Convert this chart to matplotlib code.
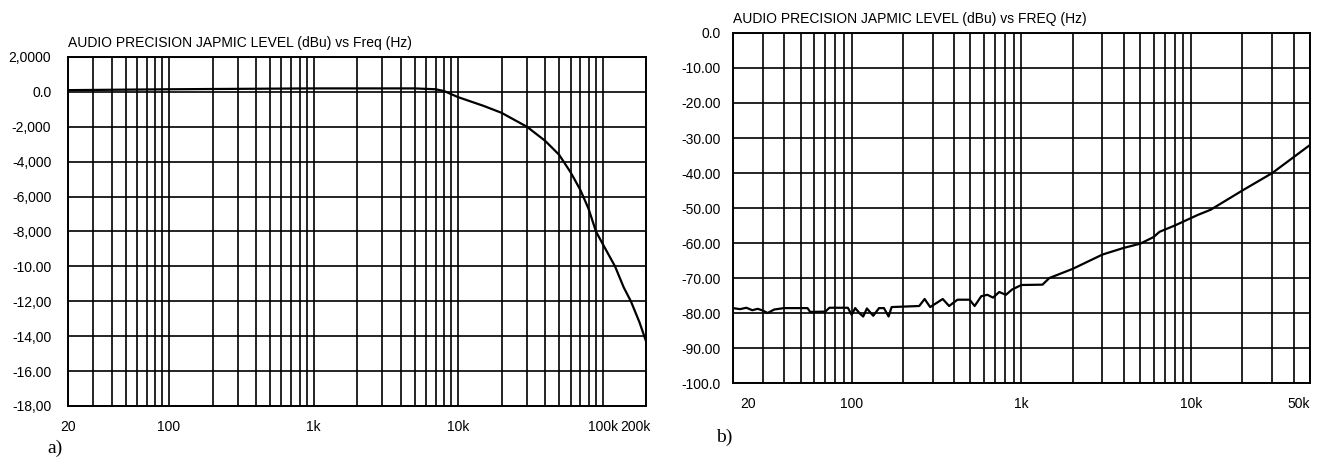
import matplotlib
matplotlib.use("Agg")
import matplotlib.pyplot as plt
import matplotlib.transforms as mtransforms
from matplotlib.ticker import LogLocator, NullFormatter

plt.rcParams['font.family'] = ['Liberation Sans', 'DejaVu Sans']

# a) nivel vs frecuencia (respuesta en frecuencia)
freq_a = [20, 100, 1000, 5000, 7000, 8000, 10000, 15000, 20000, 30000, 40000,
          50000, 60000, 70000, 80000, 90000, 100000, 122000, 140000, 157000,
          180000, 200000]
level_a = [0.1, 0.15, 0.2, 0.2, 0.15, 0.05, -0.3, -0.8, -1.2, -2.0, -2.8,
           -3.6, -4.6, -5.6, -6.7, -8.0, -8.7, -10.0, -11.2, -12.0,
           -13.2, -14.3]
yticks_a = [2, 0, -2, -4, -6, -8, -10, -12, -14, -16, -18]
ylabels_a = ["2,0000", "0.0", "-2,000", "-4,000", "-6,000", "-8,000",
             "-10.00", "-12,00", "-14,00", "-16.00", "-18,00"]
xticks_a = [20, 100, 1000, 10000, 100000, 200000]
xlabels_a = ["20", "100", "1k", "10k", "100k", "200k"]

# b) ruido vs frecuencia
freq_b = [20, 22, 24, 26, 28, 30, 32, 35, 40, 55, 57, 70, 74, 95, 100, 105,
          112, 117, 123, 134, 145, 155, 165, 172, 250, 269, 290, 344, 375,
          420, 495, 530, 580, 630, 680, 740, 810, 880, 970, 1000, 1330, 1460,
          2000, 3000, 4000, 5000, 6000, 6500, 8000, 10900, 13000, 20000,
          30000, 50000]
level_b = [-78.6, -78.9, -78.5, -79.2, -78.8, -79.3, -80.0, -79.0, -78.6,
           -78.6, -79.7, -79.6, -78.5, -78.5, -80.5, -78.6, -80.2, -81.0,
           -78.7, -80.8, -78.6, -78.6, -81.0, -78.3, -78.0, -76.0, -78.3,
           -76.0, -78.0, -76.2, -76.2, -78.0, -75.2, -74.8, -75.6, -74.0,
           -74.8, -73.3, -72.3, -72.0, -71.9, -70.0, -67.4, -63.3, -61.4,
           -60.2, -58.3, -56.8, -55.0, -52.0, -50.5, -45.0, -40.0, -32.0]
yticks_b = [0, -10, -20, -30, -40, -50, -60, -70, -80, -90, -100]
ylabels_b = ["0.0", "-10.00", "-20.00", "-30.00", "-40.00", "-50.00",
             "-60.00", "-70.00", "-80.00", "-90.00", "-100.0"]
xticks_b = [20, 100, 1000, 10000, 50000]
xlabels_b = ["20", "100", "1k", "10k", "50k"]


def estilo(ax, xlim, ylim, yticks, ylabels, xticks, xlabels, titulo, ypad):
    ax.set_xscale('log')
    ax.set_xlim(xlim)
    ax.set_ylim(ylim)
    ax.xaxis.set_minor_locator(LogLocator(base=10, subs=range(1, 10)))
    ax.xaxis.set_minor_formatter(NullFormatter())
    ax.set_yticks(yticks)
    ax.set_yticklabels(ylabels)
    ax.set_xticks(xticks)
    ax.set_xticklabels(xlabels)
    ax.tick_params(which='both', length=0, labelsize=10)
    ax.tick_params(axis='y', pad=ypad)
    ax.tick_params(axis='x', pad=10)
    ax.grid(which='both', axis='x', color='black', linewidth=1.2)
    ax.grid(which='major', axis='y', color='black', linewidth=1.2)
    for s in ax.spines.values():
        s.set_linewidth(1.4)
    for lab in ax.get_yticklabels():
        lab.set_ha('right')
    ax.text(0, 1.02, titulo, transform=ax.transAxes, fontsize=10,
            ha='left', va='bottom')


def mover(lab, dx, fig):
    # desplaza una etiqueta dx puntos en horizontal
    lab.set_transform(lab.get_transform() +
                      mtransforms.ScaledTranslation(dx / 72, 0,
                                                    fig.dpi_scale_trans))


fig = plt.figure(figsize=(13.18, 4.57), dpi=100)

ax1 = fig.add_axes([0.0516, 0.1116, 0.4386, 0.7637])
ax1.plot(freq_a, level_a, color='black', linewidth=1.6)
estilo(ax1, (20, 200000), (-18, 2), yticks_a, ylabels_a, xticks_a, xlabels_a,
       "AUDIO PRECISION JAPMIC LEVEL (dBu) vs Freq (Hz)", 12)
ultima = ax1.get_xticklabels()[-1]
ultima.set_ha('right')
mover(ultima, 3, fig)

ax2 = fig.add_axes([0.5561, 0.1619, 0.4378, 0.7659])
ax2.plot(freq_b, level_b, color='black', linewidth=1.6)
estilo(ax2, (20, 50000), (-100, 0), yticks_b, ylabels_b, xticks_b, xlabels_b,
       "AUDIO PRECISION JAPMIC LEVEL (dBu) vs FREQ (Hz)", 9)
ax2.get_xticklabels()[-1].set_ha('right')
primera = ax2.get_xticklabels()[0]
primera.set_ha('left')
mover(primera, 5, fig)

fig.text(0.036, 0.02, "a)", fontsize=14, family='Liberation Serif',
         va='center')
fig.text(0.543, 0.044, "b)", fontsize=14, family='Liberation Serif',
         va='center')

fig.savefig("out.png", dpi=100)
